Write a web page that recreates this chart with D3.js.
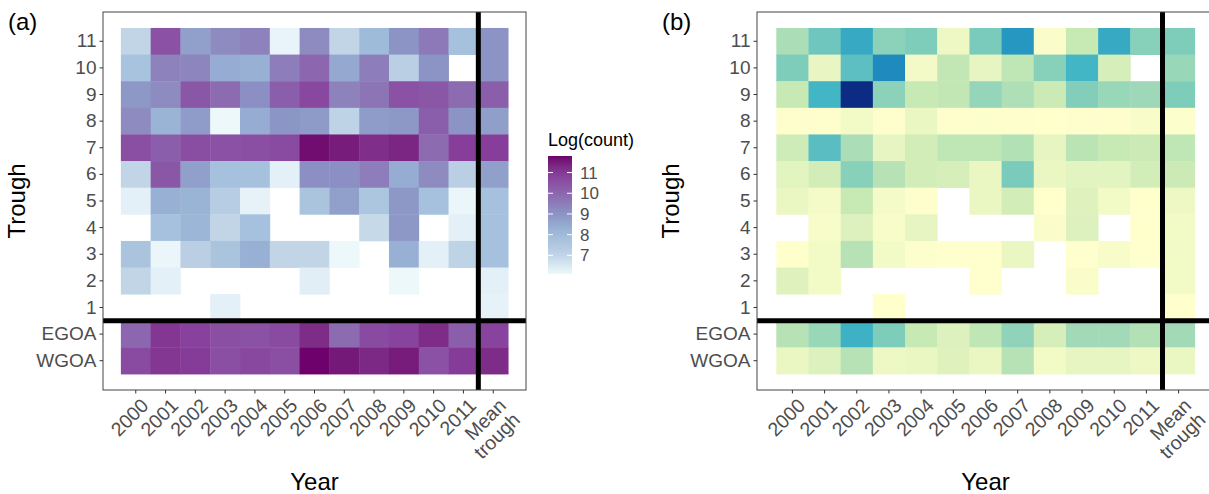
<!DOCTYPE html>
<html>
<head>
<meta charset="utf-8" />
<title>Trough heatmaps</title>
<script src="https://d3js.org/d3.v7.min.js"></script>
<style>
  body { margin: 0; background: #ffffff; }
  svg { font-family: 'Liberation Sans', Arial, sans-serif; display: block; }
  .tick line { stroke: #333333; }
  .tick text { fill: #4d4d4d; }
</style>
</head>
<body>
<svg id="viz"></svg>

<script>
// columns and rows
var years = ["2000", "2001", "2002", "2003", "2004", "2005", "2006", "2007", "2008", "2009", "2010", "2011", "Mean trough"];
var troughs = ["11", "10", "9", "8", "7", "6", "5", "4", "3", "2", "1", "EGOA", "WGOA"];

// panel (a): Log(count), one row per trough (null = no data)
var logCount = [
  [7.0, 10.5, 8.7, 9.2, 9.4, 6.2, 9.2, 7.0, 8.0, 9.0, 9.6, 7.8, 9.0],
  [7.7, 9.4, 9.3, 8.4, 8.3, 9.5, 10.0, 8.5, 9.5, 7.2, 9.0, null, 9.0],
  [8.9, 9.2, 10.4, 9.9, 9.1, 10.2, 10.7, 9.4, 9.7, 10.5, 10.4, 9.9, 10.2],
  [9.2, 8.2, 8.8, 6.1, 8.4, 8.95, 8.85, 7.05, 8.8, 8.9, 10.2, 9.0, 8.75],
  [10.55, 10.2, 10.6, 10.5, 10.55, 10.65, 11.7, 11.5, 11.2, 11.35, 9.9, 10.9, 10.9],
  [7.0, 10.4, 8.7, 7.8, 7.8, 6.3, 9.1, 9.1, 9.5, 8.4, 9.2, 7.2, 8.7],
  [6.3, 8.3, 8.2, 7.3, 6.25, null, 7.65, 8.7, 7.6, 8.9, 7.8, 6.15, 7.8],
  [null, 7.8, 8.15, 7.0, 7.8, null, null, null, 6.9, 8.9, null, 6.3, 7.8],
  [7.65, 6.15, 7.2, 7.65, 8.3, 7.0, 7.0, 6.1, null, 8.3, 6.3, 7.05, 7.8],
  [7.0, 6.3, null, null, null, null, 6.35, null, null, 6.1, null, null, 6.3],
  [null, null, null, 6.3, null, null, null, null, null, null, null, null, 6.25],
  [10.0, 11.05, 10.85, 10.55, 10.5, 10.65, 11.25, 9.9, 10.65, 10.8, 11.25, 10.2, 10.8],
  [10.65, 11.05, 10.95, 10.55, 10.7, 10.55, 11.8, 11.55, 11.3, 11.5, 10.5, 10.95, 11.25]
];

// panel (b): relative value (no legend in the original)
var relValue = [
  [0.24, 0.39, 0.56, 0.31, 0.34, 0.06, 0.35, 0.64, 0.02, 0.17, 0.56, 0.32, 0.34],
  [0.34, 0.07, 0.44, 0.69, 0.04, 0.18, 0.08, 0.19, 0.32, 0.50, 0.13, null, 0.28],
  [0.17, 0.50, 1.00, 0.31, 0.17, 0.18, 0.29, 0.23, 0.16, 0.33, 0.28, 0.27, 0.34],
  [0.01, 0.01, 0.045, 0.01, 0.065, 0.01, 0.015, 0.01, 0.005, 0.01, 0.01, 0.03, 0.015],
  [0.15, 0.45, 0.24, 0.08, 0.14, 0.19, 0.19, 0.22, 0.08, 0.20, 0.17, 0.16, 0.19],
  [0.09, 0.14, 0.32, 0.21, 0.14, 0.13, 0.065, 0.35, 0.065, 0.09, 0.09, 0.14, 0.16],
  [0.065, 0.035, 0.17, 0.035, 0.01, null, 0.065, 0.14, 0.005, 0.10, 0.045, 0.005, 0.055],
  [null, 0.03, 0.11, 0.025, 0.08, null, null, null, 0.02, 0.11, null, 0.005, 0.045],
  [0.005, 0.045, 0.21, 0.045, 0.015, 0.008, 0.008, 0.065, null, 0.008, 0.03, 0.008, 0.045],
  [0.10, 0.045, null, null, null, null, 0.008, null, null, 0.02, null, null, 0.045],
  [null, null, null, 0.005, null, null, null, null, null, null, null, null, 0.005],
  [0.21, 0.28, 0.52, 0.34, 0.17, 0.11, 0.19, 0.30, 0.13, 0.26, 0.26, 0.22, 0.26],
  [0.065, 0.11, 0.21, 0.055, 0.065, 0.10, 0.065, 0.21, 0.045, 0.08, 0.08, 0.055, 0.065]
];

var legendTicks = [7, 8, 9, 10, 11];

// brewer 7-class palettes (as used by scale_fill_distiller)
var bupu7 = ["#edf8fb", "#bfd3e6", "#9ebcda", "#8c96c6", "#8c6bb1", "#88419d", "#6e016b"];
var ylgnbu7 = ["#ffffcc", "#c7e9b4", "#7fcdbb", "#41b6c4", "#1d91c0", "#225ea8", "#0c2c84"];

function makeColor(matrix, colors) {
  var ext = d3.extent(matrix.flat().filter(function(v) { return v != null; }));
  var stops = colors.map(function(c, i) { return ext[0] + i * (ext[1] - ext[0]) / (colors.length - 1); });
  return d3.scaleLinear().domain(stops).range(colors).interpolate(d3.interpolateLab);
}

var W = 1209, H = 494;
var svg = d3.select("#viz").attr("width", W).attr("height", H);

function drawPanel(matrix, colors, box, tag) {
  var color = makeColor(matrix, colors);

  var x = d3.scaleBand().domain(years).range([box.x0, box.x1]).paddingInner(0).paddingOuter(0.6);
  var y = d3.scaleBand().domain(troughs).range([box.y0, box.y1]).paddingInner(0).paddingOuter(0.6);

  var g = svg.append("g");

  var cells = [];
  matrix.forEach(function(row, i) {
    row.forEach(function(v, j) {
      if (v != null) cells.push({ t: troughs[i], yr: years[j], v: v });
    });
  });

  g.selectAll("rect.cell")
    .data(cells)
    .enter().append("rect")
    .attr("class", "cell")
    .attr("x", function(d) { return x(d.yr); })
    .attr("y", function(d) { return y(d.t); })
    .attr("width", x.bandwidth() + 0.4)
    .attr("height", y.bandwidth() + 0.4)
    .attr("fill", function(d) { return color(d.v); });

  // separators: trough rows vs areas, years vs mean
  var vx = x("Mean trough");
  var hy = y("EGOA");
  g.append("line")
    .attr("x1", vx).attr("x2", vx)
    .attr("y1", box.y0).attr("y2", box.y1)
    .attr("stroke", "#000").attr("stroke-width", 5);
  g.append("line")
    .attr("x1", box.x0).attr("x2", box.x1)
    .attr("y1", hy).attr("y2", hy)
    .attr("stroke", "#000").attr("stroke-width", 5);

  g.append("rect")
    .attr("x", box.x0).attr("y", box.y0)
    .attr("width", box.x1 - box.x0).attr("height", box.y1 - box.y0)
    .attr("fill", "none").attr("stroke", "#444").attr("stroke-width", 1);

  // y axis
  var ya = g.append("g")
    .attr("transform", "translate(" + box.x0 + ",0)")
    .call(d3.axisLeft(y).tickSize(3.5).tickPadding(3));
  ya.select(".domain").remove();
  ya.selectAll("text").style("font-size", "19px").attr("font-family", "Liberation Sans, Arial, sans-serif");

  // x axis with rotated labels
  var xa = g.append("g")
    .attr("transform", "translate(0," + box.y1 + ")")
    .call(d3.axisBottom(x).tickSize(3.5).tickFormat(""));
  xa.select(".domain").remove();

  g.selectAll("text.xlab")
    .data(years)
    .enter().append("text")
    .attr("class", "xlab")
    .attr("transform", function(d) {
      return "translate(" + (x(d) + x.bandwidth() / 2 + 4) + "," + (box.y1 + 7) + ") rotate(-45)";
    })
    .attr("text-anchor", "end")
    .style("font-size", "19.5px")
    .attr("fill", "#4d4d4d")
    .each(function(d) {
      var parts = d.split(" ");
      var t = d3.select(this);
      parts.forEach(function(p, k) {
        t.append("tspan").attr("x", 0).attr("dy", k === 0 ? "0.72em" : "1.02em").text(p);
      });
    });

  // axis titles
  svg.append("text")
    .attr("transform", "translate(" + (box.x0 - 78) + "," + ((box.y0 + box.y1) / 2) + ") rotate(-90)")
    .attr("text-anchor", "middle")
    .style("font-size", "24px")
    .attr("fill", "#000")
    .text("Trough");

  svg.append("text")
    .attr("x", (x(years[0]) + x("Mean trough") + x.bandwidth()) / 2)
    .attr("y", 490)
    .attr("text-anchor", "middle")
    .style("font-size", "24px")
    .attr("fill", "#000")
    .text("Year");

  svg.append("text")
    .attr("x", tag.x).attr("y", 30)
    .style("font-size", "24px")
    .attr("fill", "#000")
    .text(tag.label);

  return color;
}

var colorA = drawPanel(logCount, bupu7, { x0: 103, x1: 526, y0: 12, y1: 390 }, { x: 8, label: "(a)" });
drawPanel(relValue, ylgnbu7, { x0: 757, x1: 1214, y0: 12, y1: 390 }, { x: 662, label: "(b)" });

// colour bar legend for panel (a)
var dom = colorA.domain();
var lo = dom[0], hi = dom[dom.length - 1];
var barX = 548, barW = 24, barTop = 156, barBot = 274;
var ly = d3.scaleLinear().domain([lo, hi]).range([barBot, barTop]);

var defs = svg.append("defs");
var grad = defs.append("linearGradient")
  .attr("id", "legGrad")
  .attr("x1", 0).attr("y1", 1).attr("x2", 0).attr("y2", 0);
d3.range(0, 1.0001, 0.05).forEach(function(f) {
  grad.append("stop").attr("offset", f).attr("stop-color", colorA(lo + f * (hi - lo)));
});

svg.append("text")
  .attr("x", barX).attr("y", 146)
  .style("font-size", "18px")
  .attr("fill", "#000")
  .text("Log(count)");

svg.append("rect")
  .attr("x", barX).attr("y", barTop)
  .attr("width", barW).attr("height", barBot - barTop)
  .attr("fill", "url(#legGrad)");

var lg = svg.append("g");
legendTicks.forEach(function(t) {
  lg.append("line").attr("x1", barX).attr("x2", barX + 5).attr("y1", ly(t)).attr("y2", ly(t))
    .attr("stroke", "#fff").attr("stroke-width", 1);
  lg.append("line").attr("x1", barX + barW - 5).attr("x2", barX + barW).attr("y1", ly(t)).attr("y2", ly(t))
    .attr("stroke", "#fff").attr("stroke-width", 1);
  lg.append("text")
    .attr("x", barX + barW + 8).attr("y", ly(t))
    .attr("dy", "0.36em")
    .style("font-size", "17px")
    .attr("fill", "#4d4d4d")
    .text(t);
});
</script>
</body>
</html>
